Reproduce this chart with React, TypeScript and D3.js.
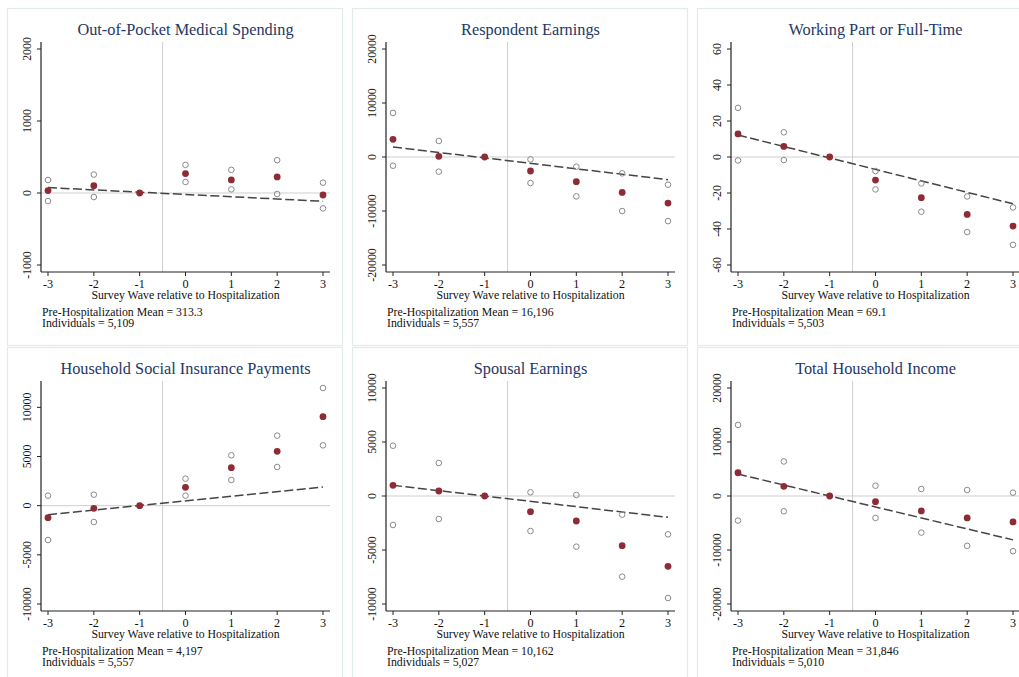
import React from "react";
import * as d3 from "d3";

// survey waves relative to hospitalization
const waves = [-3, -2, -1, 0, 1, 2, 3];

const titles = [
  "Out-of-Pocket Medical Spending",
  "Respondent Earnings",
  "Working Part or Full-Time",
  "Household Social Insurance Payments",
  "Spousal Earnings",
  "Total Household Income",
];

// point estimates, upper / lower CI bounds (null at the reference wave), fitted pre-trend line ends
const oopEst = [33, 102, 0, 270, 181, 223, -28];
const oopHi = [181, 256, null, 391, 321, 456, 144];
const oopLo = [-112, -56, null, 153, 51, -14, -214];
const oopFit = [75, -115];
const oopTicks = [-1000, 0, 1000, 2000];

const earnEst = [3277, 124, 0, -2597, -4575, -6553, -8532];
const earnHi = [8161, 2968, null, -433, -1793, -3029, -5131];
const earnLo = [-1607, -2720, null, -4822, -7295, -10015, -11870];
const earnFit = [1855, -4204];
const earnTicks = [-20000, -10000, 0, 10000, 20000];

const workEst = [12.8, 5.9, 0, -12.8, -22.6, -31.9, -38.4];
const workHi = [27.3, 13.7, null, -7.8, -14.7, -21.9, -28];
const workLo = [-1.9, -1.7, null, -18, -30.4, -41.7, -48.8];
const workFit = [12.2, -26];
const workTicks = [-60, -40, -20, 0, 20, 40, 60];

const sipEst = [-1220, -271, 0, 1864, 3864, 5525, 9051];
const sipHi = [1017, 1119, null, 2746, 5119, 7119, 11966];
const sipLo = [-3492, -1661, null, 1017, 2610, 3932, 6136];
const sipFit = [-915, 1898];
const sipTicks = [-10000, -5000, 0, 5000, 10000];

const spouseEst = [988, 463, 0, -1451, -2315, -4599, -6512];
const spouseHi = [4660, 3056, null, 340, 93, -1728, -3549];
const spouseLo = [-2685, -2130, null, -3241, -4691, -7469, -9444];
const spouseFit = [988, -1975];
const spouseTicks = [-10000, -5000, 0, 5000, 10000];

const incEst = [4308, 1785, 0, -1046, -2769, -4062, -4800];
const incHi = [13169, 6400, null, 1908, 1292, 1108, 615];
const incLo = [-4554, -2831, null, -4062, -6769, -9231, -10215];
const incFit = [4062, -8123];
const incTicks = [-20000, -10000, 0, 10000, 20000];

const meanLabels = ["313.3", "16,196", "69.1", "4,197", "10,162", "31,846"];
const individualLabels = ["5,109", "5,557", "5,503", "5,557", "5,027", "5,010"];

const panels = [
  { est: oopEst, hi: oopHi, lo: oopLo, fit: oopFit, ticks: oopTicks },
  { est: earnEst, hi: earnHi, lo: earnLo, fit: earnFit, ticks: earnTicks },
  { est: workEst, hi: workHi, lo: workLo, fit: workFit, ticks: workTicks },
  { est: sipEst, hi: sipHi, lo: sipLo, fit: sipFit, ticks: sipTicks },
  { est: spouseEst, hi: spouseHi, lo: spouseLo, fit: spouseFit, ticks: spouseTicks },
  { est: incEst, hi: incHi, lo: incLo, fit: incFit, ticks: incTicks },
];

const W = 1019;
const H = 677;
const colX = [7, 352, 697];
const rowY = [8, 347];
const font = "'Liberation Serif', 'Times New Roman', serif";

// plot frame inside each panel
const axisLeft = 34;
const axisRight = 323;
const axisTop = 34;
const axisBottom = 264;
const pad = 7;

function Panel({ i }: { i: number }) {
  const p = panels[i];
  const x0 = colX[i % 3];
  const y0 = rowY[Math.floor(i / 3)];

  const x = d3.scaleLinear().domain([-3, 3]).range([axisLeft + pad, axisRight - pad]);
  const vals = [...p.ticks, ...p.est, ...(p.hi.filter((v) => v != null) as number[]), ...(p.lo.filter((v) => v != null) as number[])];
  const y = d3.scaleLinear().domain(d3.extent(vals) as [number, number]).range([axisBottom - pad, axisTop + pad]);

  const fitLine = d3.line<number>().x((d, k) => x(k === 0 ? -3 : 3)).y((d) => y(d));
  const ci = [...p.hi, ...p.lo]
    .map((v, k) => ({ w: waves[k % 7], v }))
    .filter((d) => d.v != null) as { w: number; v: number }[];

  return (
    <g transform={`translate(${x0},${y0})`}>
      <rect x={0.5} y={0.5} width={335} height={337} fill="#fff" stroke="#e3eaec" strokeWidth={1.2} />
      <text x={(axisLeft + axisRight) / 2} y={27} textAnchor="middle" fontSize={16.3} fill="#243765" fontFamily={font}>
        {titles[i]}
      </text>
      {/* reference lines */}
      <line x1={axisLeft} x2={axisRight} y1={y(0)} y2={y(0)} stroke="#cfcfcf" strokeWidth={1} />
      <line x1={x(-0.5)} x2={x(-0.5)} y1={axisTop} y2={axisBottom} stroke="#cfcfcf" strokeWidth={1} />
      {/* axes */}
      <line x1={axisLeft} x2={axisLeft} y1={axisTop} y2={axisBottom} stroke="#222" strokeWidth={1.2} />
      <line x1={axisLeft} x2={axisRight} y1={axisBottom} y2={axisBottom} stroke="#222" strokeWidth={1.2} />
      {p.ticks.map((t) => (
        <g key={t}>
          <line x1={axisLeft - 4} x2={axisLeft} y1={y(t)} y2={y(t)} stroke="#222" strokeWidth={1} />
          <text
            transform={`translate(${axisLeft - 10.5},${y(t)}) rotate(-90)`}
            textAnchor="middle"
            fontSize={11.8}
            fill="#111"
            fontFamily={font}
          >
            {t}
          </text>
        </g>
      ))}
      {waves.map((w) => (
        <g key={w}>
          <line x1={x(w)} x2={x(w)} y1={axisBottom} y2={axisBottom + 4} stroke="#222" strokeWidth={1} />
          <text x={x(w)} y={axisBottom + 15.5} textAnchor="middle" fontSize={12.2} fill="#111" fontFamily={font}>
            {w}
          </text>
        </g>
      ))}
      <text x={(axisLeft + axisRight) / 2} y={axisBottom + 27} textAnchor="middle" fontSize={11.8} fill="#111" fontFamily={font}>
        Survey Wave relative to Hospitalization
      </text>
      <text x={axisLeft + 1} y={axisBottom + 43.5} fontSize={11.8} fill="#111" fontFamily={font}>
        {`Pre-Hospitalization Mean = ${meanLabels[i]}`}
      </text>
      <text x={axisLeft + 1} y={axisBottom + 55} fontSize={11.8} fill="#111" fontFamily={font}>
        {`Individuals = ${individualLabels[i]}`}
      </text>
      {/* fitted pre-trend */}
      <path d={fitLine(p.fit) || ""} fill="none" stroke="#444" strokeWidth={1.5} strokeDasharray="9,3.5" />
      {ci.map((d, k) => (
        <circle key={k} cx={x(d.w)} cy={y(d.v)} r={2.8} fill="none" stroke="#8a8a8a" strokeWidth={1} />
      ))}
      {p.est.map((v, k) => (
        <circle key={k} cx={x(waves[k])} cy={y(v)} r={3.4} fill="#8e2c35" />
      ))}
    </g>
  );
}

export default function App() {
  return (
    <svg
      width={W}
      height={H}
      viewBox={`0 0 ${W} ${H}`}
      style={{ position: "absolute", left: 0, top: 0, background: "#fff", overflow: "hidden" }}
    >
      <rect width={W} height={H} fill="#fff" />
      {titles.map((t, i) => (
        <Panel key={t} i={i} />
      ))}
    </svg>
  );
}
